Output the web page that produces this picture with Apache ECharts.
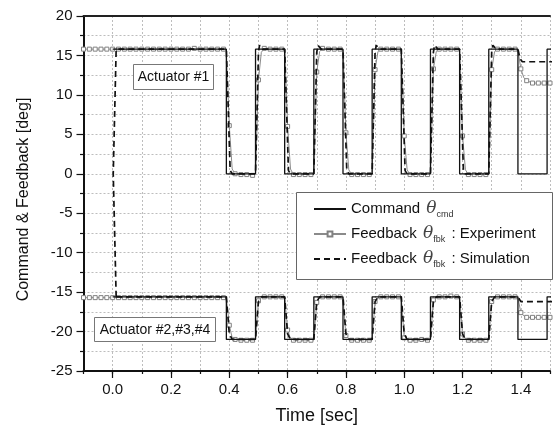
<!DOCTYPE html>
<html>
<head>
<meta charset="utf-8">
<script src="https://cdn.jsdelivr.net/npm/echarts@6/dist/echarts.min.js"></script>
<style>html,body{margin:0;padding:0;background:#fff}#c{width:553px;height:430px}</style>
</head>
<body>
<div id="c"></div>
<script>
// ---- tick labels ----
var xLabelValues = [0, 0.2, 0.4, 0.6, 0.8, 1.0, 1.2, 1.4];
var yRange = [-25, 20];
var xRange = [-0.1, 1.5];

// ---- Actuator #1 ----
var cmd1 = [[0.0,15.8],[0.39,15.8],[0.39,0],[0.49,0],[0.49,15.8],[0.59,15.8],[0.59,0],[0.69,0],[0.69,15.8],[0.79,15.8],[0.79,0],[0.89,0],[0.89,15.8],[0.99,15.8],[0.99,0],[1.09,0],[1.09,15.8],[1.19,15.8],[1.19,0],[1.29,0],[1.29,15.8],[1.39,15.8],[1.39,0],[1.49,0],[1.49,15.8],[1.55,15.8]];
var exp1 = [[-0.10,15.8],[-0.08,15.8],[-0.06,15.8],[-0.04,15.8],[-0.02,15.8],[0.00,15.8],[0.02,15.8],[0.04,15.8],[0.06,15.8],[0.08,15.8],[0.10,15.8],[0.12,15.8],[0.14,15.8],[0.16,15.8],[0.18,15.8],[0.20,15.8],[0.22,15.8],[0.24,15.8],[0.26,15.8],[0.28,15.9],[0.30,15.8],[0.32,15.8],[0.34,15.8],[0.36,15.8],[0.38,15.8],
  [0.39,15.7],[0.40,6.1],[0.41,0.6],[0.42,0.0],[0.44,-0.1],[0.46,-0.1],[0.48,-0.2],[0.49,0.0],[0.50,11.9],[0.51,15.4],[0.52,15.9],[0.54,15.8],[0.56,15.8],[0.58,15.8],
  [0.59,15.7],[0.60,6.0],[0.61,0.6],[0.62,-0.1],[0.64,-0.1],[0.66,-0.1],[0.68,-0.1],[0.69,0.0],[0.70,12.9],[0.71,15.5],[0.72,15.9],[0.74,15.8],[0.76,15.8],[0.78,15.8],
  [0.79,15.7],[0.80,5.2],[0.81,0.5],[0.82,-0.1],[0.84,-0.1],[0.86,-0.1],[0.88,-0.1],[0.89,0.0],[0.90,13.2],[0.91,15.5],[0.92,15.8],[0.94,15.8],[0.96,15.8],[0.98,15.8],
  [0.99,15.7],[1.00,4.8],[1.01,0.5],[1.02,-0.1],[1.04,-0.1],[1.06,-0.1],[1.08,-0.1],[1.09,0.0],[1.10,13.3],[1.11,15.5],[1.12,15.8],[1.14,15.8],[1.16,15.8],[1.18,15.8],
  [1.19,15.7],[1.20,4.8],[1.21,0.5],[1.22,-0.1],[1.24,-0.1],[1.26,-0.1],[1.28,-0.1],[1.29,0.0],[1.30,13.2],[1.31,15.5],[1.32,15.8],[1.34,15.8],[1.36,15.8],[1.38,15.8],
  [1.39,15.7],[1.40,13.3],[1.41,12.2],[1.42,11.8],[1.44,11.5],[1.46,11.5],[1.48,11.5],[1.50,11.5],[1.52,11.5]];
var sim1 = [[0.012,-15.6],[0.002,0],[0.012,15.8],[0.39,15.8],[0.403,0.4],[0.41,0],[0.49,0],[0.50,15.4],[0.504,16.3],[0.515,15.8],
  [0.59,15.8],[0.603,0.4],[0.61,0],[0.69,0],[0.70,15.4],[0.704,16.3],[0.715,15.8],
  [0.79,15.8],[0.803,0.4],[0.81,0],[0.89,0],[0.90,15.4],[0.904,16.3],[0.915,15.8],
  [0.99,15.8],[1.003,0.4],[1.01,0],[1.09,0],[1.10,15.4],[1.104,16.3],[1.115,15.8],
  [1.19,15.8],[1.203,0.4],[1.21,0],[1.29,0],[1.30,15.4],[1.304,16.3],[1.315,15.8],
  [1.39,15.8],[1.397,14.6],[1.405,14.2],[1.55,14.2]];

// ---- Actuator #2,#3,#4 ----
var cmd2 = [[0.0,-15.6],[0.39,-15.6],[0.39,-21.0],[0.49,-21.0],[0.49,-15.6],[0.59,-15.6],[0.59,-21.0],[0.69,-21.0],[0.69,-15.6],[0.79,-15.6],[0.79,-21.0],[0.89,-21.0],[0.89,-15.6],[0.99,-15.6],[0.99,-21.0],[1.09,-21.0],[1.09,-15.6],[1.19,-15.6],[1.19,-21.0],[1.29,-21.0],[1.29,-15.6],[1.39,-15.6],[1.39,-21.0],[1.49,-21.0],[1.49,-15.6],[1.55,-15.6]];
var exp2 = [[-0.10,-15.7],[-0.08,-15.7],[-0.06,-15.7],[-0.04,-15.7],[-0.02,-15.7],[0.00,-15.7],[0.02,-15.7],[0.04,-15.7],[0.06,-15.7],[0.08,-15.7],[0.10,-15.7],[0.12,-15.7],[0.14,-15.7],[0.16,-15.7],[0.18,-15.7],[0.20,-15.7],[0.22,-15.7],[0.24,-15.7],[0.26,-15.7],[0.28,-15.7],[0.30,-15.7],[0.32,-15.7],[0.34,-15.7],[0.36,-15.7],[0.38,-15.7],
  [0.39,-15.7],[0.40,-19.2],[0.41,-20.8],[0.42,-21.0],[0.44,-21.1],[0.46,-21.1],[0.48,-21.1],[0.49,-21.0],[0.50,-16.1],[0.51,-15.7],[0.52,-15.6],[0.54,-15.6],[0.56,-15.6],[0.58,-15.6],
  [0.59,-15.7],[0.60,-19.8],[0.61,-20.9],[0.62,-21.1],[0.64,-21.1],[0.66,-21.1],[0.68,-21.1],[0.69,-21.0],[0.70,-16.3],[0.71,-15.7],[0.72,-15.6],[0.74,-15.6],[0.76,-15.6],[0.78,-15.6],
  [0.79,-15.7],[0.80,-20.5],[0.81,-20.9],[0.82,-21.1],[0.84,-21.1],[0.86,-21.1],[0.88,-21.1],[0.89,-21.0],[0.90,-16.2],[0.91,-15.7],[0.92,-15.6],[0.94,-15.6],[0.96,-15.6],[0.98,-15.6],
  [0.99,-15.7],[1.00,-20.8],[1.01,-21.0],[1.02,-21.1],[1.04,-21.1],[1.06,-21.0],[1.08,-21.1],[1.09,-21.0],[1.10,-16.0],[1.11,-15.7],[1.12,-15.6],[1.14,-15.6],[1.16,-15.5],[1.18,-15.6],
  [1.19,-15.7],[1.20,-20.3],[1.21,-20.9],[1.22,-21.1],[1.24,-21.1],[1.26,-21.1],[1.28,-21.1],[1.29,-21.0],[1.30,-16.2],[1.31,-15.7],[1.32,-15.6],[1.34,-15.6],[1.36,-15.6],[1.38,-15.6],
  [1.39,-15.7],[1.40,-17.6],[1.41,-18.0],[1.42,-18.2],[1.44,-18.2],[1.46,-18.2],[1.48,-18.2],[1.50,-18.2],[1.52,-18.2]];
var sim2 = [[0.012,-15.6],[0.39,-15.6],[0.40,-20.3],[0.41,-21.0],[0.49,-21.0],[0.50,-16.2],[0.51,-15.6],
  [0.59,-15.6],[0.60,-20.3],[0.61,-21.0],[0.69,-21.0],[0.70,-16.2],[0.71,-15.6],
  [0.79,-15.6],[0.80,-20.3],[0.81,-21.0],[0.89,-21.0],[0.90,-16.2],[0.91,-15.6],
  [0.99,-15.6],[1.00,-20.3],[1.01,-21.0],[1.09,-21.0],[1.10,-16.2],[1.11,-15.6],
  [1.19,-15.6],[1.20,-20.3],[1.21,-21.0],[1.29,-21.0],[1.30,-16.2],[1.31,-15.6],
  [1.39,-15.6],[1.40,-16.2],[1.55,-16.2]];

var FONT = 'Liberation Sans, Arial, sans-serif';
var chart = echarts.init(document.getElementById('c'), null, {renderer: 'canvas'});

var gridLine = {show: true, lineStyle: {color: '#bdbdbd', width: 1, type: [2, 2]}};

function cmdSeries(d) {
  return {name: 'Command', type: 'line', data: d, symbol: 'none', z: 4,
    lineStyle: {color: '#111', width: 1.3}, itemStyle: {color: '#111'}, animation: false};
}
function expSeries(d) {
  return {name: 'Experiment', type: 'line', data: d, symbol: 'rect', showSymbol: true, z: 3,
    symbolSize: function (v) { return Math.abs(Math.round(v[0] * 100)) % 2 === 0 ? 4 : 0; },
    lineStyle: {color: '#8a8a8a', width: 1}, itemStyle: {color: '#fff', borderColor: '#808080', borderWidth: 1}, animation: false};
}
function simSeries(d) {
  return {name: 'Simulation', type: 'line', data: d, symbol: 'none', z: 5,
    lineStyle: {color: '#111', width: 1.7, type: [6, 4]}, itemStyle: {color: '#111'}, animation: false};
}

var legendText = {
  'Command': 'Command {th|θ}{sub|cmd}',
  'Experiment': 'Feedback {th|θ}{sub|fbk}{n| : Experiment}',
  'Simulation': 'Feedback {th|θ}{sub|fbk}{n| : Simulation}'
};
var hiddenSym = {color: 'rgba(0,0,0,0)', borderWidth: 0, opacity: 0};

chart.setOption({
  animation: false,
  backgroundColor: '#fff',
  textStyle: {fontFamily: FONT},
  grid: {left: 83.5, top: 16, width: 472, height: 355, containLabel: false},
  xAxis: [
    {type: 'value', min: xRange[0], max: xRange[1], interval: 0.1, position: 'bottom',
      axisLine: {show: true, onZero: false, lineStyle: {color: '#111', width: 2}},
      axisTick: {show: true, length: 3, lineStyle: {color: '#111', width: 1.2}},
      axisLabel: {fontSize: 15, color: '#111', fontFamily: FONT, margin: 11,
        formatter: function (v) { var k = Math.round(v * 10); return (k % 2 === 0 && k >= 0) ? (k / 10).toFixed(1) : ''; }},
      splitLine: gridLine,
      name: 'Time [sec]', nameLocation: 'middle', nameGap: 36,
      nameTextStyle: {fontSize: 18, color: '#111', fontFamily: FONT}},
    {type: 'value', min: xRange[0], max: xRange[1], position: 'bottom',
      axisLine: {show: false, onZero: false},
      axisTick: {show: true, length: 7, customValues: xLabelValues, lineStyle: {color: '#111', width: 1.2}},
      axisLabel: {show: false}, splitLine: {show: false}},
    {type: 'value', min: xRange[0], max: xRange[1], position: 'top',
      axisLine: {show: true, onZero: false, lineStyle: {color: '#222', width: 2}},
      axisTick: {show: false}, axisLabel: {show: false}, splitLine: {show: false}}
  ],
  yAxis: [{
    type: 'value', min: yRange[0], max: yRange[1], interval: 5,
    axisLine: {show: true, onZero: false, lineStyle: {color: '#111', width: 2}},
    axisTick: {show: true, length: 7, lineStyle: {color: '#111', width: 1.2}},
    minorTick: {show: true, splitNumber: 2, length: 3.5, lineStyle: {color: '#111', width: 1.2}},
    axisLabel: {fontSize: 15, color: '#111', fontFamily: FONT, margin: 11},
    splitLine: gridLine,
    minorSplitLine: {show: true, lineStyle: {color: '#bdbdbd', width: 1, type: [2, 2]}},
    name: 'Command & Feedback [deg]', nameLocation: 'middle', nameGap: 52,
    nameTextStyle: {fontSize: 16, color: '#111', fontFamily: FONT, padding: [0, 12, 0, 0]}
  }],
  legend: {
    show: true, orient: 'vertical', left: 308, top: 194, padding: 5, itemGap: 5,
    itemWidth: 32, itemHeight: 6, z: 20,
    data: [
      {name: 'Command', itemStyle: hiddenSym},
      {name: 'Experiment'},
      {name: 'Simulation', itemStyle: hiddenSym}
    ],
    formatter: function (n) { return legendText[n]; },
    textStyle: {fontSize: 15, color: '#111', fontFamily: FONT, lineHeight: 20,
      rich: {
        n: {fontSize: 15, color: '#111', fontFamily: FONT, lineHeight: 20},
        th: {fontSize: 17, fontStyle: 'italic', fontFamily: 'DejaVu Serif, serif', color: '#444', lineHeight: 20, padding: [0, 0, 0, 2]},
        sub: {fontSize: 9, color: '#333', fontFamily: FONT, lineHeight: 10, verticalAlign: 'bottom', padding: [0, 2, 0, 0]}
      }}
  },
  graphic: [
    {type: 'rect', z: 15, shape: {x: 296.5, y: 192.5, width: 256, height: 87},
      style: {fill: '#fff', stroke: '#666', lineWidth: 1}},
    {type: 'rect', z: 15, shape: {x: 133.5, y: 64.5, width: 80, height: 25},
      style: {fill: '#fff', stroke: '#777', lineWidth: 1}},
    {type: 'text', z: 16, x: 173.5, y: 77.5,
      style: {text: 'Actuator #1', font: '14px ' + FONT, fill: '#111', align: 'center', verticalAlign: 'middle'}},
    {type: 'rect', z: 15, shape: {x: 94.5, y: 317.5, width: 121, height: 24},
      style: {fill: '#fff', stroke: '#777', lineWidth: 1}},
    {type: 'text', z: 16, x: 155, y: 330,
      style: {text: 'Actuator #2,#3,#4', font: '14px ' + FONT, fill: '#111', align: 'center', verticalAlign: 'middle'}}
  ],
  series: [
    expSeries(exp1), simSeries(sim1), cmdSeries(cmd1),
    expSeries(exp2), simSeries(sim2), cmdSeries(cmd2)
  ]
});
</script>
</body>
</html>
